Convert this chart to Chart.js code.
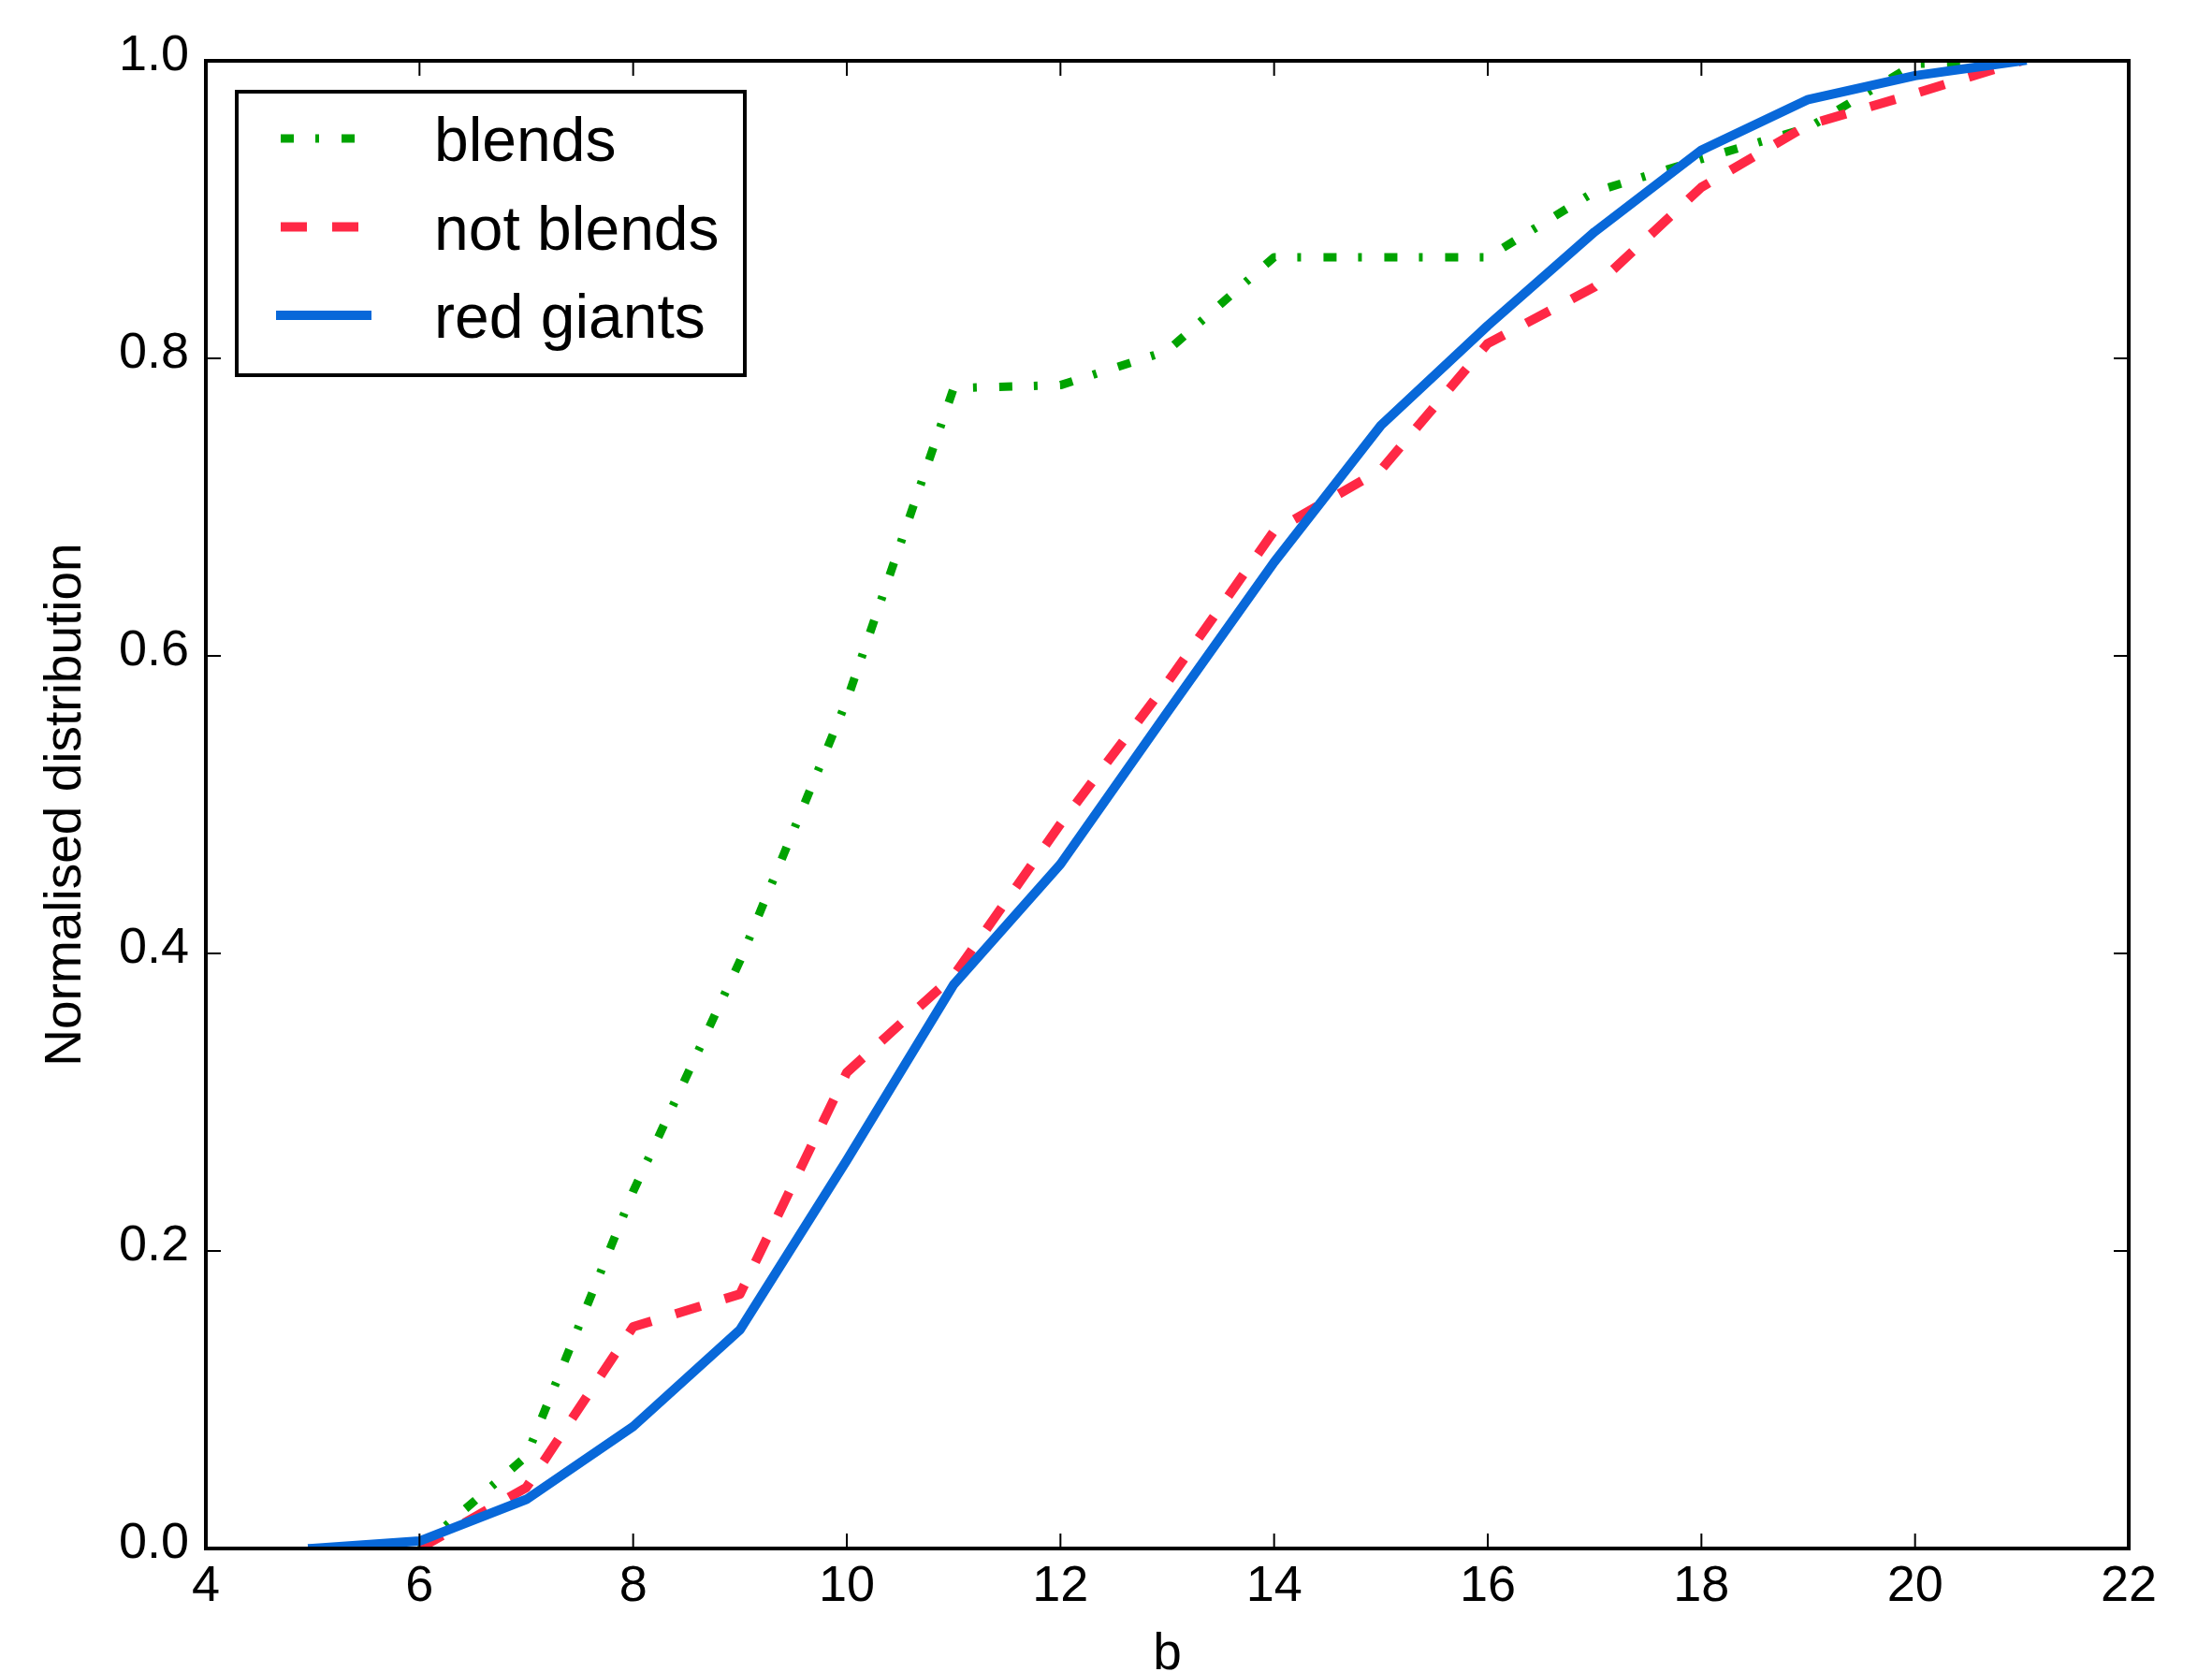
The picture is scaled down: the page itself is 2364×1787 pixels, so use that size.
<!DOCTYPE html>
<html>
<head>
<meta charset="utf-8">
<style>
  html, body { margin: 0; padding: 0; background: #ffffff; overflow: hidden; }
  canvas { display: block; }
</style>
<script src="https://cdn.jsdelivr.net/npm/chart.js@4.4.1/dist/chart.umd.min.js"></script>
</head>
<body>
<canvas id="c" width="2364" height="1787"></canvas>
<script>
// ---- data ----
const bValues   = [5, 6, 7, 8, 9, 10, 11, 12, 13, 14, 15, 16, 17, 18, 19, 20, 21];
const blends    = [null, 0.0, 0.062, 0.240, 0.395, 0.570, 0.780, 0.782, 0.805, 0.868, 0.868, 0.868, 0.912, 0.934, 0.955, 0.998, 1.0];
const notBlends = [null, 0.0, 0.041, 0.149, 0.171, 0.320, 0.385, 0.487, 0.582, 0.684, 0.725, 0.810, 0.848, 0.915, 0.957, 0.978, 1.0];
const redGiants = [0.0, 0.005, 0.033, 0.082, 0.147, 0.261, 0.379, 0.460, 0.562, 0.663, 0.755, 0.822, 0.885, 0.940, 0.974, 0.990, 1.0];
const seriesNames = ['blends', 'not blends', 'red giants'];
const xTicks = [4, 6, 8, 10, 12, 14, 16, 18, 20, 22];
const yTicks = [0.0, 0.2, 0.4, 0.6, 0.8, 1.0];
const xTitle = 'b';
const yTitle = 'Normalised distribution';

const toPoints = (ys) => bValues.map((x, i) => ({ x: x, y: ys[i] })).filter(p => p.y !== null);

const FONT = '"Liberation Sans", Arial, Helvetica, sans-serif';
Chart.defaults.font.family = FONT;
Chart.defaults.color = '#000000';

const whiteBg = {
  id: 'whiteBg',
  beforeDraw(chart) {
    const ctx = chart.ctx;
    ctx.save();
    ctx.fillStyle = '#ffffff';
    ctx.fillRect(0, 0, chart.width, chart.height);
    ctx.restore();
  }
};

const frameAndTicks = {
  id: 'frameAndTicks',
  afterDatasetsDraw(chart) {
    const { ctx, chartArea: a, scales } = chart;
    ctx.save();
    ctx.strokeStyle = '#000000';
    ctx.lineCap = 'butt';
    // inward ticks on all four sides
    ctx.lineWidth = 2;
    const L = 16;
    ctx.beginPath();
    xTicks.forEach(v => {
      const px = scales.x.getPixelForValue(v);
      ctx.moveTo(px, a.bottom); ctx.lineTo(px, a.bottom - L);
      ctx.moveTo(px, a.top); ctx.lineTo(px, a.top + L);
    });
    yTicks.forEach(v => {
      const py = scales.y.getPixelForValue(v);
      ctx.moveTo(a.left, py); ctx.lineTo(a.left + L, py);
      ctx.moveTo(a.right, py); ctx.lineTo(a.right - L, py);
    });
    ctx.stroke();
    // frame
    ctx.lineWidth = 4;
    ctx.lineJoin = 'miter';
    ctx.strokeRect(a.left, a.top, a.right - a.left, a.bottom - a.top);
    ctx.restore();
  }
};

const insetLegend = {
  id: 'insetLegend',
  afterDraw(chart) {
    const ctx = chart.ctx;
    const a = chart.chartArea;
    const bx = a.left + 33, by = a.top + 33, bw = 543, bh = 303;
    ctx.save();
    ctx.fillStyle = '#ffffff';
    ctx.fillRect(bx, by, bw, bh);
    ctx.strokeStyle = '#000000';
    ctx.lineWidth = 4;
    ctx.strokeRect(bx, by, bw, bh);
    const order = [2, 1, 0]; // dataset indices in legend order: blends, not blends, red giants
    const rowY = [by + 50, by + 144.5, by + 239];
    order.forEach((di, k) => {
      const ds = chart.data.datasets[di];
      const y = rowY[k];
      ctx.save();
      ctx.strokeStyle = ds.borderColor;
      ctx.lineWidth = ds.borderWidth;
      ctx.lineCap = ds.borderCapStyle || 'butt';
      ctx.setLineDash(ds.borderDash || []);
      ctx.beginPath();
      ctx.moveTo(bx + 47, y);
      ctx.lineTo(bx + 139, y);
      ctx.stroke();
      ctx.restore();
      ctx.fillStyle = '#000000';
      ctx.font = '66px ' + FONT;
      ctx.textAlign = 'left';
      ctx.textBaseline = 'alphabetic';
      ctx.fillText(ds.label, bx + 211, y + 24);
    });
    ctx.restore();
  }
};

new Chart(document.getElementById('c'), {
  type: 'line',
  data: {
    datasets: [
      {
        label: seriesNames[2],
        data: toPoints(redGiants),
        borderColor: '#0868d9',
        borderWidth: 10,
        borderCapStyle: 'square',
        borderJoinStyle: 'round',
        pointRadius: 0,
        fill: false,
        tension: 0,
        order: 1
      },
      {
        label: seriesNames[1],
        data: toPoints(notBlends),
        borderColor: '#ff2845',
        borderWidth: 10,
        borderDash: [28, 27],
        borderCapStyle: 'butt',
        borderJoinStyle: 'round',
        pointRadius: 0,
        fill: false,
        tension: 0,
        order: 2
      },
      {
        label: seriesNames[0],
        data: toPoints(blends),
        borderColor: '#00a300',
        borderWidth: 9,
        borderDash: [14, 23, 4, 24],
        borderCapStyle: 'butt',
        borderJoinStyle: 'round',
        pointRadius: 0,
        fill: false,
        tension: 0,
        order: 3
      }
    ]
  },
  options: {
    responsive: false,
    animation: false,
    devicePixelRatio: 1,
    layout: { padding: { left: 0, top: 65, right: 89, bottom: 0 } },
    plugins: {
      legend: { display: false },
      tooltip: { enabled: false }
    },
    scales: {
      x: {
        type: 'linear',
        min: 4,
        max: 22,
        afterFit(s) { s.height = 132; },
        afterBuildTicks(s) { s.ticks = xTicks.map(v => ({ value: v })); },
        grid: { display: false, drawTicks: false },
        border: { display: false },
        ticks: {
          padding: 9,
          maxRotation: 0,
          autoSkip: false,
          font: { size: 54 },
          color: '#000000',
          callback: (v) => String(v)
        },
        title: {
          display: true,
          text: xTitle,
          font: { size: 55 },
          color: '#000000',
          padding: { top: 0, bottom: -15 }
        }
      },
      y: {
        type: 'linear',
        min: 0,
        max: 1,
        afterFit(s) { s.width = 220; },
        afterBuildTicks(s) { s.ticks = yTicks.map(v => ({ value: v })); },
        grid: { display: false, drawTicks: false },
        border: { display: false },
        ticks: {
          padding: 18,
          labelOffset: -5,
          autoSkip: false,
          font: { size: 54 },
          color: '#000000',
          callback: (v) => Number(v).toFixed(1)
        },
        title: {
          display: true,
          text: yTitle,
          font: { size: 55 },
          color: '#000000',
          padding: { top: 38, bottom: 0 }
        }
      }
    }
  },
  plugins: [whiteBg, frameAndTicks, insetLegend]
});
</script>
</body>
</html>
